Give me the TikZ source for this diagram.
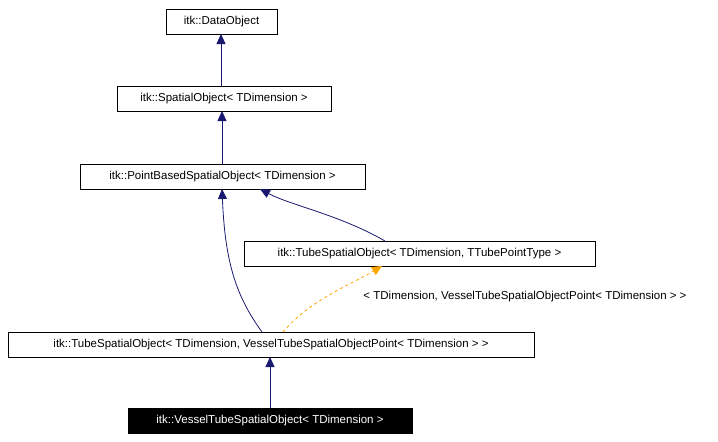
\documentclass[tikz,border=0pt]{standalone}
\usepackage{fontspec}
\setmainfont{Liberation Sans}
\usetikzlibrary{arrows.meta}
\begin{document}
\begin{tikzpicture}[x=1pt,y=-1pt,
  box/.style={draw=black,fill=white,inner sep=0pt,minimum height=25pt,font=\fontsize{11.5}{13}\selectfont,line width=0.8pt},
  inh/.style={draw={rgb,255:red,25;green,25;blue,112},line width=0.8pt,-{Triangle[length=10pt,width=9pt,fill={rgb,255:red,25;green,25;blue,112}]}},
  tmpl/.style={draw={rgb,255:red,255;green,165;blue,0},dashed,line width=0.8pt,-{Triangle[length=10pt,width=9pt,fill={rgb,255:red,255;green,165;blue,0}]}}]
\useasboundingbox (0,0) rectangle (718,442);
\node[box,minimum width=111pt] (do) at (221.5,21.5) {itk::DataObject};
\node[box,minimum width=214pt] (so) at (224,98.5) {itk::SpatialObject< TDimension >};
\node[box,minimum width=285pt] (pb) at (222.5,177) {itk::PointBasedSpatialObject< TDimension >};
\node[box,minimum width=351pt] (ts) at (419.5,253.5) {itk::TubeSpatialObject< TDimension, TTubePointType >};
\node[box,minimum width=526pt] (tv) at (271,344.5) {itk::TubeSpatialObject< TDimension, VesselTubeSpatialObjectPoint< TDimension > >};
\node[box,minimum width=284pt,fill=black,text=white] (vs) at (270,420.5) {itk::VesselTubeSpatialObject< TDimension >};
\coordinate (sot) at (221,86); \coordinate (dob) at (221,34);
\draw[inh] (sot) -- (dob);
\coordinate (pbt) at (222,165); \coordinate (sob) at (222,111);
\draw[inh] (pbt) -- (sob);
\coordinate (tst) at (385,241); \coordinate (pbb1) at (260,189);
\draw[inh] (tst) .. controls (340,215) and (290,205) .. (pbb1);
\coordinate (tvt) at (262,332); \coordinate (pbb2) at (222,189);
\draw[inh] (tvt) .. controls (235,295) and (225,260) .. (pbb2);
\coordinate (vst) at (270,408); \coordinate (tvb) at (270,357);
\draw[inh] (vst) -- (tvb);
\coordinate (tvt2) at (283,332); \coordinate (tsb) at (382,266);
\draw[tmpl] (tvt2) .. controls (310,300) and (350,285) .. (tsb);
\node[font=\fontsize{11.5}{13}\selectfont,inner sep=0pt] (lbl) at (525,297) {< TDimension, VesselTubeSpatialObjectPoint< TDimension > >};
\end{tikzpicture}
\end{document}
